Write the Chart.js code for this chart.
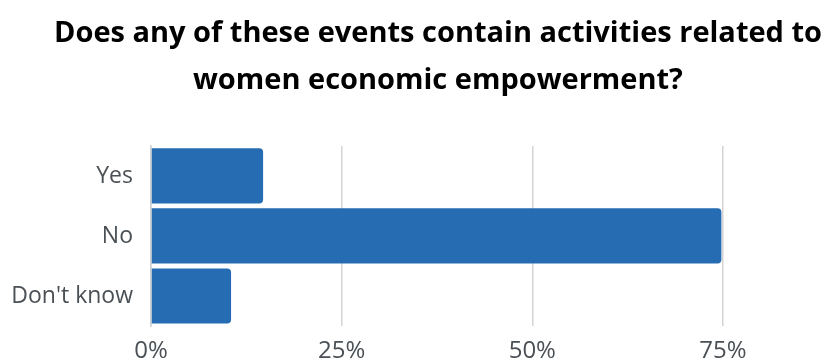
<!DOCTYPE html>
<html lang="en">
<head>
  <meta charset="UTF-8" />
  <title>Women economic empowerment</title>
  <style>
    body {
      margin: 0;
      padding: 0;
      background: #ffffff;
    }

    .wrap {
      width: 832px;
      height: 360px;
      overflow: hidden;
    }
  </style>
</head>
<body>
  <div class="wrap">
    <canvas id="barChart" width="876" height="360"></canvas>
  </div>

  <script src="https://cdn.jsdelivr.net/npm/chart.js"></script>
  <script>
    const categories = ['Yes', 'No', "Don't know"];
    const shares = [14.7, 74.8, 10.5];
    const tickValues = [0, 25, 50, 75];
    const titleLines = [
      'Does any of these events contain activities related to',
      'women economic empowerment?'
    ];

    const ctx = document.getElementById('barChart').getContext('2d');

    new Chart(ctx, {
      type: 'bar',
      data: {
        labels: categories,
        datasets: [{
          data: shares,
          backgroundColor: '#266cb3',
          borderRadius: 4,
          barPercentage: 0.92,
          categoryPercentage: 1
        }]
      },
      options: {
        indexAxis: 'y',
        responsive: false,
        animation: false,
        layout: { padding: 0 },
        plugins: {
          legend: { display: false },
          tooltip: { enabled: false },
          title: {
            display: true,
            text: titleLines,
            color: '#000000',
            font: { family: 'Open Sans', size: 29, weight: 'bold', lineHeight: 1.62 },
            padding: { top: 10, bottom: 42 }
          }
        },
        scales: {
          x: {
            min: 0,
            max: 95.07,
            afterBuildTicks: (s) => {
              s.ticks = tickValues.map(v => ({ value: v }));
            },
            afterFit: (s) => { s.height = 34; },
            grid: {
              color: '#d4d4d4',
              lineWidth: 1.5,
              drawTicks: false
            },
            border: { display: false },
            ticks: {
              padding: 11,
              color: '#4a5055',
              font: { family: 'Open Sans', size: 24 },
              callback: (v) => v + '%'
            }
          },
          y: {
            afterFit: (s) => { s.width = 151; },
            grid: { display: false, drawTicks: false },
            border: { display: true, color: '#cfcfcf', width: 1.5 },
            ticks: {
              padding: 18,
              color: '#4a5055',
              font: { family: 'Open Sans', size: 23 }
            }
          }
        }
      }
    });
  </script>
</body>
</html>
